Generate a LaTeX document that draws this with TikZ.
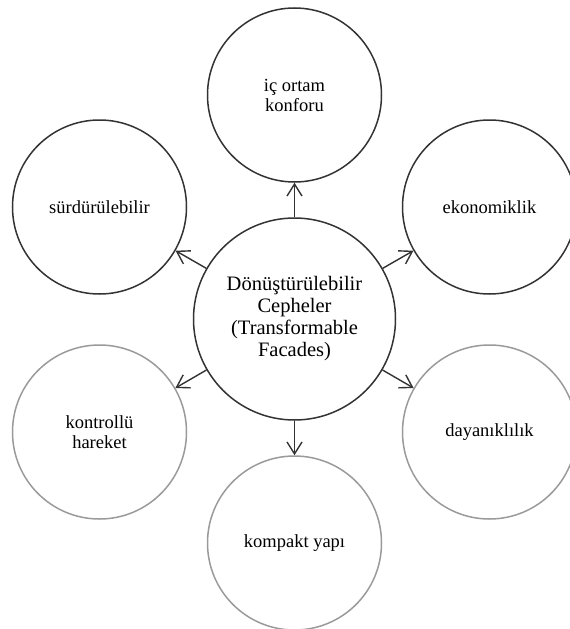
\documentclass[tikz,border=0pt]{standalone}
\usepackage{fontspec}
\setmainfont{Liberation Serif}
\usetikzlibrary{arrows.meta}
\definecolor{darkline}{HTML}{333333}
\definecolor{grayline}{HTML}{9A9A9A}
\begin{document}
\begin{tikzpicture}[x=1pt,y=-1pt,
  hub/.style={circle,draw=darkline,line width=1.5pt,minimum size=202pt,inner sep=0pt,align=center,
    font=\fontsize{20.5}{22}\selectfont},
  satdark/.style={circle,draw=darkline,line width=1.5pt,minimum size=174pt,inner sep=0pt,align=center,
    font=\fontsize{18.5}{20}\selectfont},
  satgray/.style={satdark,draw=grayline},
  link/.style={draw=darkline,line width=1.4pt,-{Straight Barb[length=12pt,width=15pt,line width=1.4pt]}}]
\useasboundingbox (0,0) rectangle (570,629);
\node[hub] (c) at (294.5,319) {Dönüştürülebilir\\Cepheler\\(Transformable\\Facades)};
\node[satdark] (t) at (294.5,95) {iç ortam\\konforu};
\node[satdark] (ul) at (99.5,207) {sürdürülebilir};
\node[satdark] (ur) at (489.5,207) {ekonomiklik};
\node[satgray] (ll) at (99.5,432) {kontrollü\\hareket};
\node[satgray] (lr) at (489.5,432) {dayanıklılık};
\node[satgray] (b) at (294.5,543) {kompakt yapı};
\draw[link] (c) -- (t);
\draw[link] (c) -- (ul);
\draw[link] (c) -- (ur);
\draw[link] (c) -- (ll);
\draw[link] (c) -- (lr);
\draw[link] (c) -- (b);
\end{tikzpicture}
\end{document}
